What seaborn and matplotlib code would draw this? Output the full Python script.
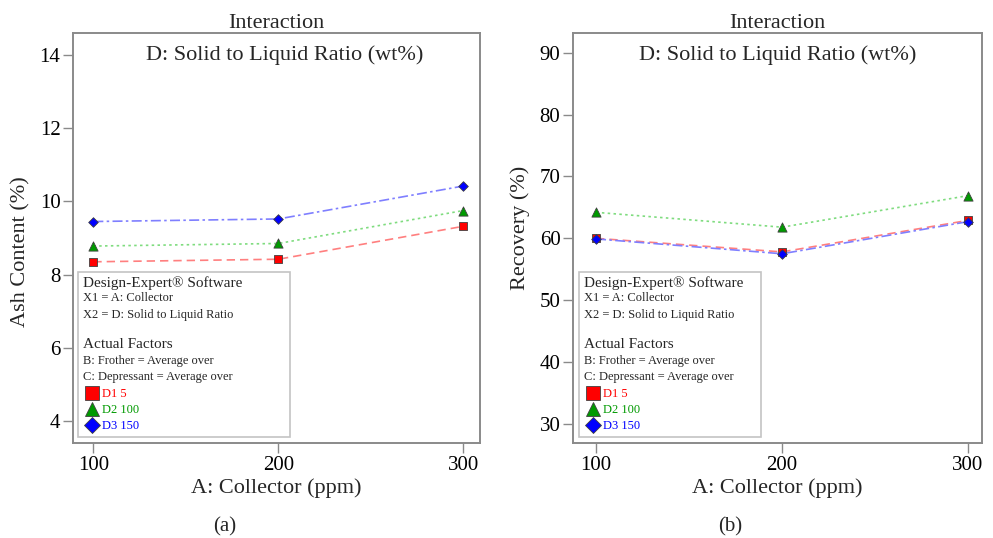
import numpy as np
import pandas as pd
import matplotlib
matplotlib.use("Agg")
import matplotlib.pyplot as plt
import seaborn as sns
from matplotlib.lines import Line2D
from matplotlib.patches import Rectangle

# valores
collector = [100, 200, 300]
levels = ["D1 5", "D2 100", "D3 150"]
ash_d1 = [8.35, 8.42, 9.32]
ash_d2 = [8.78, 8.85, 9.75]
ash_d3 = [9.45, 9.52, 10.42]
rec_d1 = [60.0, 57.8, 62.9]
rec_d2 = [64.2, 61.8, 66.9]
rec_d3 = [59.9, 57.5, 62.7]
ash_ticks = [4, 6, 8, 10, 12, 14]
rec_ticks = [30, 40, 50, 60, 70, 80, 90]

mark_colors = {"D1 5": "#ff0000", "D2 100": "#009a00", "D3 150": "#0000ff"}
line_colors = {"D1 5": "#ff7f7f", "D2 100": "#7fdc7f", "D3 150": "#7f7fff"}
dash_map = {"D1 5": (5, 3), "D2 100": (1.5, 2), "D3 150": (6, 2, 1.5, 2)}
marker_map = {"D1 5": "s", "D2 100": "^", "D3 150": "D"}
marker_size = {"D1 5": 36, "D2 100": 44, "D3 150": 24}

sns.set_style("ticks")
plt.rcParams["font.family"] = ["Liberation Serif", "DejaVu Serif"]
plt.rcParams["axes.edgecolor"] = "#8a8a8a"
plt.rcParams["xtick.color"] = "#8a8a8a"
plt.rcParams["ytick.color"] = "#8a8a8a"
plt.rcParams["xtick.labelcolor"] = "black"
plt.rcParams["ytick.labelcolor"] = "black"


def long_table(d1, d2, d3, name):
    rows = []
    for lev, vals in zip(levels, [d1, d2, d3]):
        for x, v in zip(collector, vals):
            rows.append({"Collector": x, "Level": lev, name: v})
    return pd.DataFrame(rows)


def draw_panel(ax, df, name, ylabel, ylim, yticks, xlim, box, sub_x, ylab_y):
    sns.lineplot(data=df, x="Collector", y=name, hue="Level", style="Level",
                 palette=line_colors, dashes=dash_map, linewidth=1.2,
                 legend=False, ax=ax)
    for lev in levels:
        sub = df[df["Level"] == lev]
        sns.scatterplot(data=sub, x="Collector", y=name, color=mark_colors[lev],
                        marker=marker_map[lev], s=marker_size[lev],
                        edgecolor="#404040", linewidth=0.6, legend=False,
                        ax=ax, zorder=3)
    ax.set_xlim(xlim)
    ax.set_ylim(ylim)
    ax.set_xticks(collector)
    ax.set_yticks(yticks)
    ax.tick_params(labelsize=15, length=7, width=1, pad=2)
    for s in ax.spines.values():
        s.set_linewidth(1.4)
    ax.set_xlabel("A: Collector (ppm)", fontsize=16, labelpad=3)
    ax.set_ylabel(ylabel, fontsize=16)
    ax.yaxis.set_label_coords(-0.104, ylab_y)
    ax.text(0.5, 0.999, "Interaction", transform=ax.transAxes,
            ha="center", va="bottom", fontsize=16)
    ax.text(sub_x, 0.947, "D: Solid to Liquid Ratio (wt%)",
            transform=ax.transAxes, ha="center", va="center", fontsize=16)

    # caixa de informações do Design-Expert
    x0, w = box
    ax.add_patch(Rectangle((x0, 0.015), w, 0.402, transform=ax.transAxes,
                           facecolor="white", edgecolor="#c4c4c4",
                           linewidth=1.2, zorder=4))
    tx = x0 + 0.012
    info = [("Design-Expert® Software", 11, 283),
            ("X1 = A: Collector", 9, 298),
            ("X2 = D: Solid to Liquid Ratio", 9, 315),
            ("Actual Factors", 11, 344),
            ("B: Frother = Average over", 9, 361),
            ("C: Depressant = Average over", 9, 377)]
    for txt, fs, ypix in info:
        ax.text(tx, (443 - ypix) / 410, txt, transform=ax.transAxes,
                ha="left", va="center", fontsize=fs, zorder=5)
    handles = [Line2D([], [], linestyle="none", marker=marker_map[l],
                      markerfacecolor=mark_colors[l], markeredgecolor="#404040",
                      markeredgewidth=0.6, markersize=10 if l != "D3 150" else 8)
               for l in levels]
    leg = ax.legend(handles, levels, loc="upper left",
                    bbox_to_anchor=(x0 + 0.02, 0.133), frameon=False,
                    fontsize=9, handlelength=0.9, handletextpad=0.35,
                    labelspacing=0.32, borderpad=0, borderaxespad=0,
                    labelcolor=[mark_colors[l] for l in levels])
    leg.set_zorder(6)


fig = plt.figure(figsize=(9.93, 5.38), dpi=100)
ax1 = fig.add_axes([73 / 993, 1 - 443 / 538, 407 / 993, 410 / 538])
ax2 = fig.add_axes([573 / 993, 1 - 443 / 538, 409 / 993, 410 / 538])

df_ash = long_table(ash_d1, ash_d2, ash_d3, "Ash")
df_rec = long_table(rec_d1, rec_d2, rec_d3, "Recovery")

draw_panel(ax1, df_ash, "Ash", "Ash Content (%)", (3.4, 14.6), ash_ticks,
           (89, 309), (0.012, 0.521), 0.52, 0.466)
draw_panel(ax2, df_rec, "Recovery", "Recovery (%)", (26.9, 93.2), rec_ticks,
           (87.6, 307.5), (0.015, 0.445), 0.50, 0.524)

fig.text(225 / 993, 1 - 527 / 538, "(a)", ha="center", va="center", fontsize=15)
fig.text(730 / 993, 1 - 527 / 538, "(b)", ha="center", va="center", fontsize=15)

fig.savefig("out.png", dpi=100, facecolor="white")
